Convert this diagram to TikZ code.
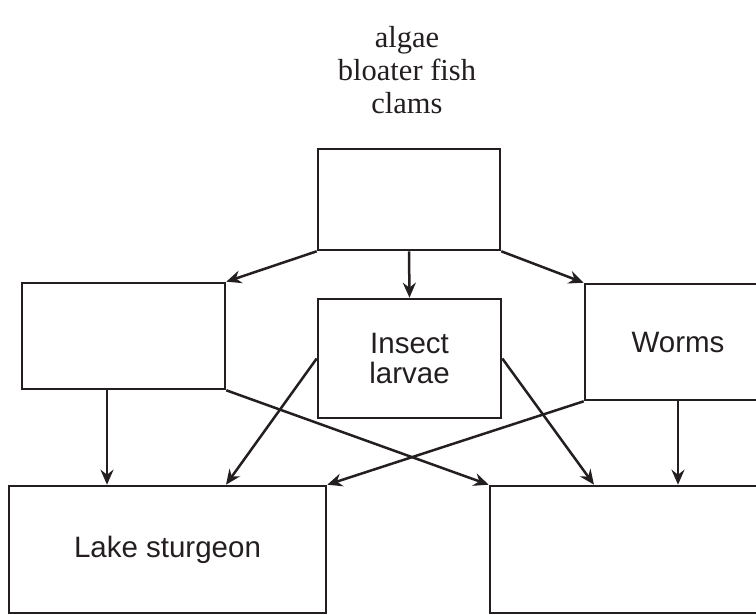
\documentclass[tikz,border=0pt]{standalone}
\usepackage{fontspec}
\newfontfamily\labelfont{Liberation Sans}
\newfontfamily\titlefont{Liberation Serif}
\usetikzlibrary{arrows.meta,calc}
\definecolor{ink}{HTML}{231F20}
\begin{document}
\begin{tikzpicture}[x=1pt,y=-1pt,
  box/.style={draw=ink, line width=2.6pt, rectangle, inner sep=0pt, align=center,
              font=\labelfont\fontsize{29.5}{30.5}\selectfont, text=ink},
  arr/.style={draw=ink, line width=2.5pt, -{Stealth[length=15pt,width=13pt,inset=5pt]}},
  title/.style={font=\titlefont\fontsize{30.5}{33}\selectfont, text=ink, align=center}]
\useasboundingbox (0,0) rectangle (756,614);
\node[title] (items) at (407,70) {algae\\bloater fish\\clams};
\node[box, minimum width=182pt, minimum height=101pt] (top) at (409,199.5) {};
\node[box, minimum width=203pt, minimum height=106pt] (left) at (123.5,336) {};
\node[box, minimum width=183pt, minimum height=119pt] (insect) at (409.5,358.5) {Insect\\larvae};
\node[box, minimum width=186pt, minimum height=116pt] (worms) at (678,342) {Worms};
\node[box, minimum width=317pt, minimum height=127pt] (lake) at (167.5,549.5) {Lake sturgeon};
\node[box, minimum width=317pt, minimum height=127pt] (rb) at (648.5,549.5) {};
\draw[arr] (top.south west) -- (left.north east);
\draw[arr] (top.south) -- (insect.north);
\draw[arr] (top.south east) -- (worms.north west);
\draw[arr] ([xshift=-16.5pt]left.south) -- ([xshift=-16.5pt]left.south |- lake.north);
\draw[arr] (left.south east) -- (rb.north west);
\draw[arr] (insect.west) -- ([xshift=58.5pt]lake.north);
\draw[arr] (insect.east) -- ([xshift=-54.5pt]rb.north);
\draw[arr] (worms.south west) -- (lake.north east);
\draw[arr] (worms.south) -- (worms.south |- rb.north);
\end{tikzpicture}
\end{document}
